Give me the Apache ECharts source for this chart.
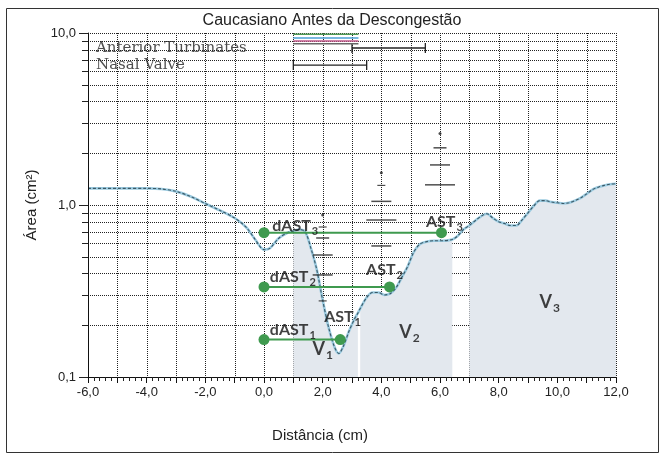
<!DOCTYPE html>
<html>
<head>
<meta charset="utf-8">
<script src="https://cdn.jsdelivr.net/npm/echarts@6/dist/echarts.min.js"></script>
<style>html,body{margin:0;padding:0;background:#fff;}#c{width:664px;height:457px;}</style>
</head>
<body>
<div id="c"></div>
<script>
// ---- data ----
const xDist = [-6, -5, -4, -3.5, -3, -2.5, -2, -1.5, -1, -0.6, -0.3, 0, 0.2, 0.5, 0.8, 1.0, 1.2, 1.4, 1.6, 1.8, 2.0, 2.2, 2.4, 2.55, 2.7, 2.9, 3.1, 3.2, 3.28, 3.5, 3.7, 3.9, 4.1, 4.3, 4.5, 4.7, 4.9, 5.1, 5.3, 5.5, 5.8, 6.1, 6.42, 6.6, 6.8, 7.0, 7.2, 7.4, 7.6, 7.8, 8.0, 8.2, 8.4, 8.6, 8.8, 9.0, 9.2, 9.4, 9.6, 9.8, 10.0, 10.2, 10.4, 10.6, 10.8, 11.0, 11.2, 11.4, 11.6, 11.8, 12.0];
const area = [1.25, 1.25, 1.25, 1.24, 1.20, 1.12, 1.02, 0.93, 0.84, 0.74, 0.63, 0.55, 0.56, 0.64, 0.69, 0.705, 0.72, 0.70, 0.56, 0.42, 0.28, 0.195, 0.15, 0.137, 0.15, 0.185, 0.22, 0.235, 0.25, 0.29, 0.31, 0.31, 0.30, 0.305, 0.33, 0.38, 0.44, 0.53, 0.59, 0.61, 0.62, 0.62, 0.63, 0.66, 0.72, 0.76, 0.81, 0.86, 0.89, 0.84, 0.80, 0.78, 0.76, 0.76, 0.82, 0.90, 0.99, 1.06, 1.06, 1.04, 1.03, 1.02, 1.03, 1.06, 1.10, 1.16, 1.23, 1.27, 1.30, 1.32, 1.33];
const volumeRegions = [[1.0, 3.2], [3.28, 6.42], [7.0, 12.0]];

const astLevels = [0.69, 0.334, 0.165];      // AST3, AST2, AST1 levels
const astX = [6.05, 4.28, 2.6];
const dastX = [0, 0, 0];

const annotText = ['dAST', 'dAST', 'dAST', 'AST', 'AST', 'AST', 'V', 'V', 'V'];
const annotSub  = ['3', '2', '1', '3', '2', '1', '1', '2', '3'];
const annotX    = [0.28, 0.2, 0.2, 5.52, 3.48, 2.05, 1.65, 4.61, 9.39];
const annotY    = [0.755, 0.381, 0.187, 0.796, 0.417, 0.223, 0.146, 0.183, 0.273];

const refNames = ['Anterior Turbinates', 'Nasal Valve'];
const refRanges = [[3.0, 5.5, 8.18], [1.0, 3.5, 6.51]];
const topLines = [[1.0, 3.22, 9.83], [1.0, 3.22, 9.35], [1.0, 3.22, 8.98], [1.0, 3.22, 8.67]];

const whiskerDots = [[2, 0.875], [4, 1.54], [6, 2.60]];
const whiskerXS = [[2, 0.745], [2, 0.277], [4, 1.30]];
const whiskerS  = [[2, 0.643], [6, 2.15]];
const whiskerM  = [[2, 0.512], [2, 0.392], [4, 1.05], [4, 0.578], [6, 1.71]];
const whiskerL  = [[4, 0.818], [6, 1.31]];

const gridXVals = [-6,-5,-4,-3,-2,-1,0,1,2,3,4,5,6,7,8,9,10,11,12];
const gridYVals = [0.1,0.2,0.3,0.4,0.5,0.6,0.7,0.8,0.9,1,2,3,4,5,6,7,8,9,10];
const majorY = [0.1, 1, 10];

const X_MIN = -6, X_MAX = 12, Y_MIN = 0.1, Y_MAX = 10;

// ---- build ----
const curve = xDist.map((x, i) => [x, area[i]]);
const fmt = v => (Math.round(v * 10) / 10).toFixed(1).replace('.', ',');
const FONT = 'Liberation Sans';
const dash = [1, 1];

const series = [];

// grid lines (custom, under fill)
series.push({
  type: 'custom', z: 1, silent: true, clip: false,
  data: gridXVals.map(v => [v, Y_MIN]),
  encode: {x: 0, y: 1},
  renderItem: (p, api) => {
    const x = api.value(0);
    const a = api.coord([x, Y_MAX]), b = api.coord([x, Y_MIN]);
    const px = Math.round(a[0]) + 0.5;
    return {type: 'line', shape: {x1: px, y1: a[1], x2: px, y2: b[1]},
      style: {stroke: '#222', lineWidth: 1, lineDash: dash}};
  }
});
series.push({
  type: 'custom', z: 1, silent: true, clip: false,
  data: gridYVals.map(v => [X_MIN, v]),
  encode: {x: 0, y: 1},
  renderItem: (p, api) => {
    const y = api.value(1);
    const a = api.coord([X_MIN, y]), b = api.coord([X_MAX, y]);
    const py = Math.round(a[1]) + 0.5;
    const major = majorY.some(m => Math.abs(m - y) < 1e-9);
    return {type: 'group', children: [
      {type: 'line', shape: {x1: a[0], y1: py, x2: b[0], y2: py},
        style: {stroke: '#222', lineWidth: 1, lineDash: dash}},
      {type: 'line', shape: {x1: a[0] - (major ? 9 : 6), y1: py, x2: a[0], y2: py},
        style: {stroke: '#222', lineWidth: 1}}
    ]};
  }
});

// volume fills
volumeRegions.forEach(r => {
  series.push({
    type: 'line', z: 2, silent: true, symbol: 'none', smooth: 0.3,
    data: curve.filter(d => d[0] >= r[0] - 1e-9 && d[0] <= r[1] + 1e-9),
    lineStyle: {width: 0},
    areaStyle: {color: '#e3e8ee', opacity: 1, origin: 'start'}
  });
});

// curve
series.push({type: 'line', z: 4, symbol: 'none', smooth: 0.3, data: curve,
  lineStyle: {color: '#9ccbe0', width: 2.6}});
series.push({type: 'line', z: 5, symbol: 'none', smooth: 0.3, data: curve,
  lineStyle: {color: '#3a5866', width: 1.1, type: [3, 2]}});

// top reference colored lines
const topColors = ['#4f9a55', '#4aa0d6', '#c2588a', '#666'];
topLines.forEach((t, i) => {
  series.push({type: 'line', z: 5, symbol: 'none', silent: true,
    data: [[t[0], t[2]], [t[1], t[2]]],
    lineStyle: {color: topColors[i], width: 1.5}});
});

// reference ranges (error bars)
series.push({
  type: 'custom', z: 5, silent: true, clip: false,
  data: refRanges, encode: {x: [0, 1], y: 2},
  renderItem: (p, api) => {
    const a = api.coord([api.value(0), api.value(2)]);
    const b = api.coord([api.value(1), api.value(2)]);
    const st = {stroke: '#222', lineWidth: 1.3};
    return {type: 'group', children: [
      {type: 'line', shape: {x1: a[0], y1: a[1], x2: b[0], y2: b[1]}, style: st},
      {type: 'line', shape: {x1: a[0], y1: a[1] - 5, x2: a[0], y2: a[1] + 5}, style: st},
      {type: 'line', shape: {x1: b[0], y1: b[1] - 5, x2: b[0], y2: b[1] + 5}, style: st}
    ]};
  }
});
series.push({
  type: 'scatter', z: 6, silent: true, symbolSize: 0,
  data: refRanges.map((r, i) => ({name: refNames[i], value: [X_MIN, r[2]]})),
  label: {show: true, position: 'right', distance: 8, formatter: '{b}',
    fontFamily: 'DejaVu Serif', fontSize: 15, color: '#222'}
});

// whisker markers
const wSeries = (d, w, h) => ({type: 'scatter', z: 5, silent: true, symbol: 'rect',
  symbolSize: [w, h], data: d, itemStyle: {color: '#222'}});
series.push(wSeries(whiskerXS, 8, 1.2));
series.push(wSeries(whiskerS, 13, 1.5));
series.push(wSeries(whiskerM, 20, 1.5));
series.push(wSeries(whiskerL, 30, 1.5));
series.push({type: 'scatter', z: 5, silent: true, symbol: 'circle', symbolSize: 3,
  data: whiskerDots, itemStyle: {color: '#222'}});

// AST lines and dots
astLevels.forEach((lv, i) => {
  series.push({type: 'line', z: 7, symbol: 'circle', symbolSize: 11, silent: true,
    data: [[dastX[i], lv], [astX[i], lv]],
    lineStyle: {color: '#3f9a4f', width: 2},
    itemStyle: {color: '#3f9a4f', borderWidth: 0}});
});

// annotation labels
series.push({
  type: 'scatter', z: 8, silent: true, symbolSize: 0,
  data: annotX.map((x, i) => ({name: annotText[i] + '|' + annotSub[i], value: [x, annotY[i]]})),
  label: {
    show: true, position: 'right', distance: 0,
    formatter: p => {
      const [t, s] = p.name.split('|');
      return t === 'V' ? `{v|${t}}{vs|${s}}` : `{b|${t}}{s|${s}}`;
    },
    rich: {
      b: {fontFamily: 'Lato', fontWeight: 'bold', fontSize: 16, color: '#111', lineHeight: 22},
      s: {fontFamily: 'Lato', fontWeight: 'bold', fontSize: 11, color: '#111', verticalAlign: 'bottom', lineHeight: 22, padding: [0, 0, 0, 1]},
      v: {fontFamily: 'Lato', fontWeight: 'bold', fontSize: 18, color: '#111', lineHeight: 24},
      vs: {fontFamily: 'Lato', fontWeight: 'bold', fontSize: 12, color: '#111', verticalAlign: 'bottom', lineHeight: 24, padding: [0, 0, 0, 1]}
    }
  }
});

const option = {
  backgroundColor: '#fff',
  animation: false,
  title: {text: 'Caucasiano Antes da Descongestão', left: 'center', top: 8,
    textStyle: {fontFamily: FONT, fontSize: 16, fontWeight: 'normal', color: '#222'}},
  grid: {left: 88, right: 48, top: 33, bottom: 80},
  xAxis: {
    type: 'value', min: X_MIN, max: X_MAX, interval: 1, z: 10,
    axisLine: {show: true, onZero: false, lineStyle: {color: '#111', width: 1}},
    axisTick: {show: true, length: 6, lineStyle: {color: '#111'}},
    minorTick: {show: true, splitNumber: 5, length: 4, lineStyle: {color: '#222'}},
    splitLine: {show: false},
    axisLabel: {margin: 9, fontFamily: FONT, fontSize: 13, color: '#222',
      formatter: v => (Math.round(v) % 2 === 0 ? fmt(v) : '')}
  },
  yAxis: {
    type: 'log', logBase: 10, min: Y_MIN, max: Y_MAX, z: 10,
    name: 'Área (cm²)', nameLocation: 'middle', nameGap: 42,
    nameTextStyle: {fontFamily: FONT, fontSize: 15, color: '#222'},
    axisLine: {show: true, onZero: false, lineStyle: {color: '#111', width: 1}},
    axisTick: {show: false},
    splitLine: {show: false},
    axisLabel: {margin: 12, fontFamily: FONT, fontSize: 13, color: '#222', formatter: v => fmt(v)}
  },
  graphic: [
    {type: 'rect', z: -10, shape: {x: 6.5, y: 8.5, width: 652, height: 444},
      style: {fill: 'none', stroke: '#333', lineWidth: 1}},
    {type: 'text', x: 320, y: 436, style: {text: 'Distância (cm)', textAlign: 'center',
      textVerticalAlign: 'middle', fontFamily: FONT, fontSize: 15, fill: '#222'}}
  ],
  series: series
};

const chart = echarts.init(document.getElementById('c'), null, {renderer: 'canvas'});
chart.setOption(option);
</script>
</body>
</html>
